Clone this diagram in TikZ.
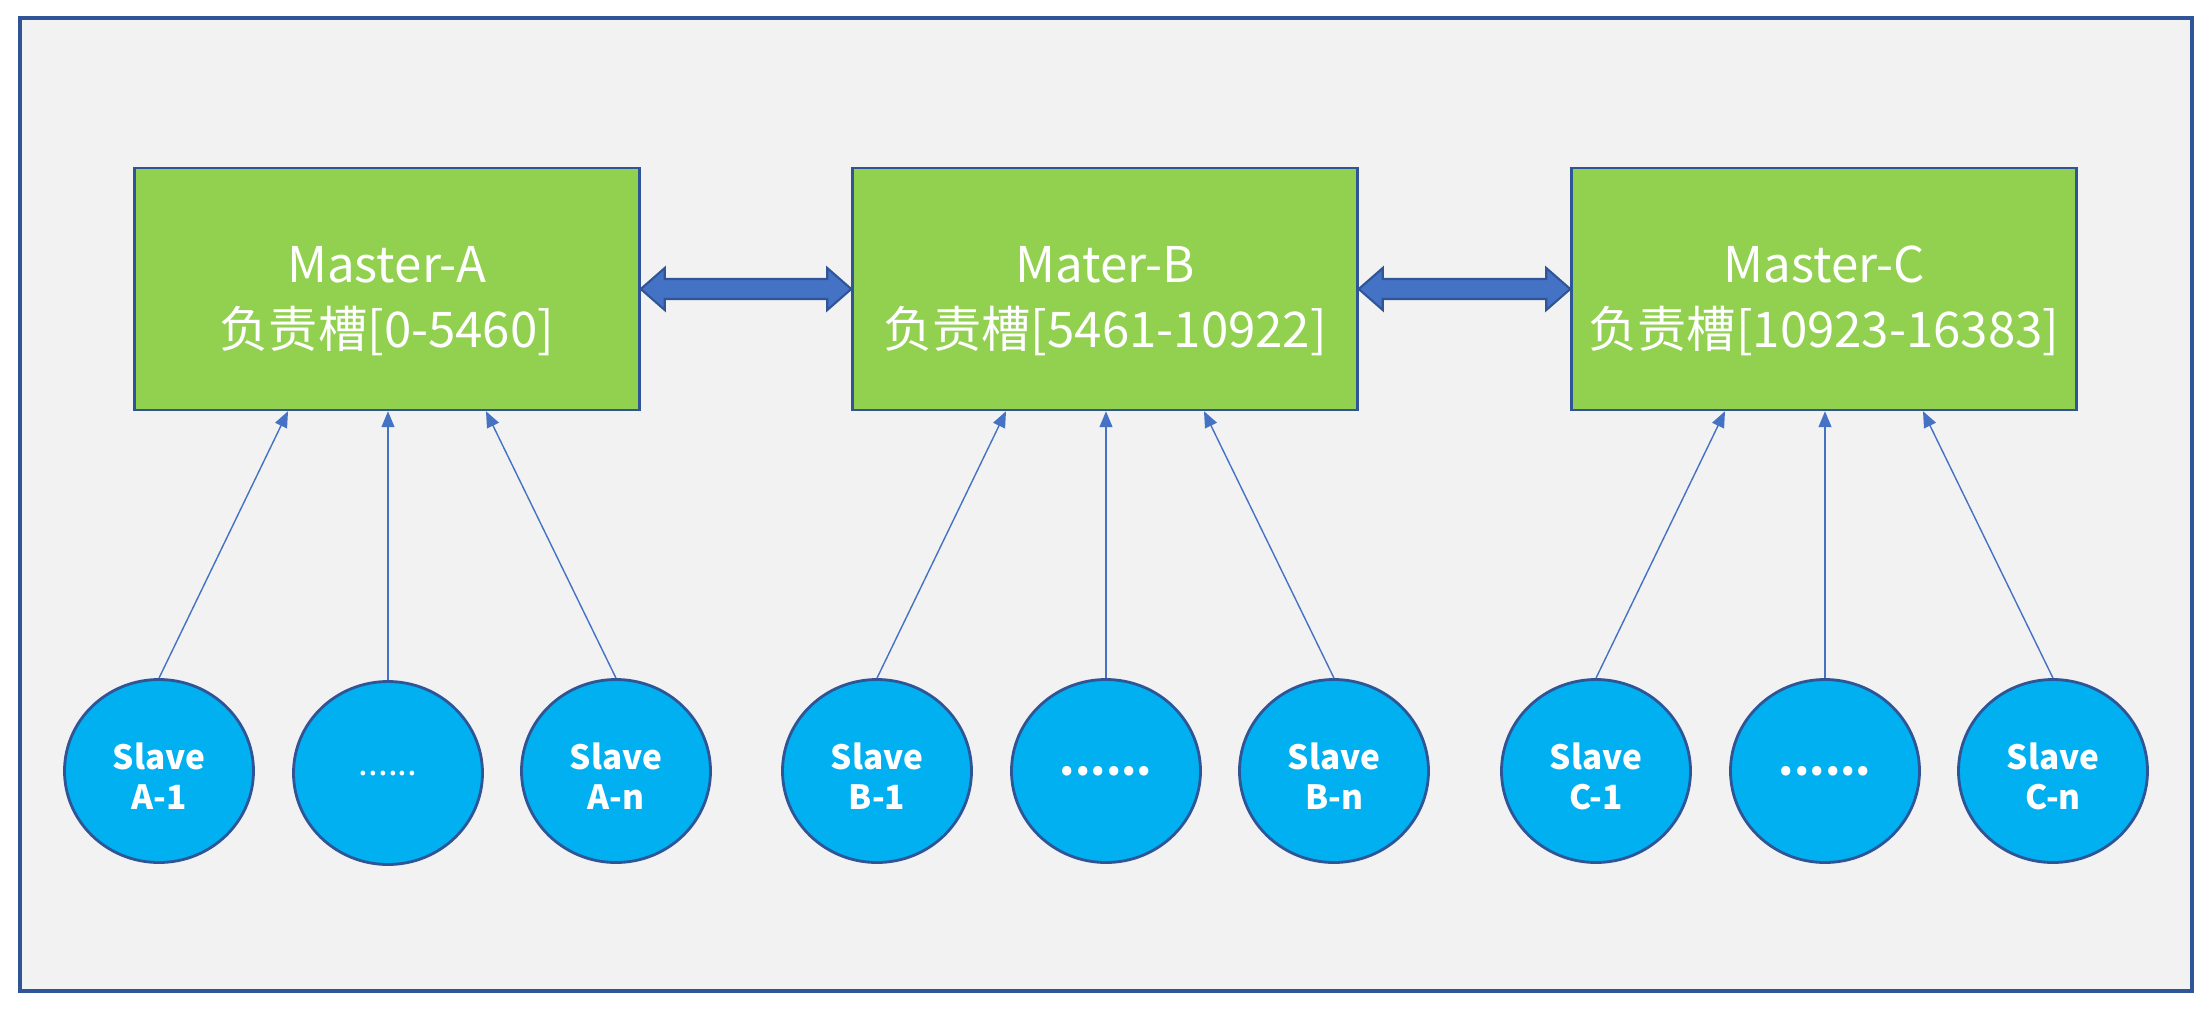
\documentclass[tikz,border=0pt]{standalone}
\usepackage{fontspec}
\usetikzlibrary{arrows.meta,calc,shapes.geometric}
\newfontfamily\cjk{Noto Sans CJK SC}
\definecolor{framebg}{HTML}{F2F2F2}
\definecolor{darkline}{HTML}{2F5597}
\definecolor{mastergreen}{HTML}{92D050}
\definecolor{slaveblue}{HTML}{00B0F0}
\definecolor{linkblue}{HTML}{4472C4}
\newcommand\mstrut{\rule{0pt}{17pt}}
\newcommand\sstrut{\rule{0pt}{10.5pt}}
\tikzset{
  master/.style={draw=darkline,line width=0.7pt,fill=mastergreen,minimum width=50.5mm,minimum height=24.2mm,inner sep=0pt,align=center,text=white,font=\cjk\fontsize{14}{18.4}\selectfont},
  slave/.style={ellipse,draw=darkline,line width=0.8pt,fill=slaveblue,minimum width=18.9mm,minimum height=18.3mm,inner sep=0pt,align=center,text=white,font=\cjk\bfseries\fontsize{9.5}{11.3}\selectfont},
  uplink/.style={draw=linkblue,line width=0.4pt,-{Triangle[length=1.6mm,width=1.3mm,fill=linkblue]}},
  sync/.style={draw=darkline,line width=0.6pt,fill=linkblue}
}
\begin{document}
\begin{tikzpicture}[x=0.1mm,y=-0.1mm]
\useasboundingbox (0,0) rectangle (2211,1011);
% frame
\draw[darkline,line width=1pt,fill=framebg] (20,18) rectangle (2192,991);

% masters
\node[master] (mA) at (387,289) {\mstrut Master-A\\负责槽[0-5460]};
\node[master] (mB) at (1105,289) {\mstrut Mater-B\\负责槽[5461-10922]};
\node[master] (mC) at (1824,289) {\mstrut Master-C\\负责槽[10923-16383]};

% slaves
\node[slave] (sA1) at (159,771) {\sstrut Slave\\A-1};
\node[slave,font=\cjk\fontsize{10}{11.5}\selectfont] (sA2) at (388,773) {......};
\node[slave] (sAn) at (616,771) {\sstrut Slave\\A-n};
\node[slave] (sB1) at (877,771) {\sstrut Slave\\B-1};
\node[slave,font=\cjk\bfseries\fontsize{12.5}{14}\selectfont] (sB2) at (1106,771) {......};
\node[slave] (sBn) at (1334,771) {\sstrut Slave\\B-n};
\node[slave] (sC1) at (1596,771) {\sstrut Slave\\C-1};
\node[slave,font=\cjk\bfseries\fontsize{12.5}{14}\selectfont] (sC2) at (1825,771) {......};
\node[slave] (sCn) at (2053,771) {\sstrut Slave\\C-n};

% slave -> master
\draw[uplink] (sA1.north) -- ([xshift=-9.9mm]mA.south);
\draw[uplink] (sA2.north) -- (sA2.north |- mA.south);
\draw[uplink] (sAn.north) -- ([xshift=9.9mm]mA.south);
\draw[uplink] (sB1.north) -- ([xshift=-9.9mm]mB.south);
\draw[uplink] (sB2.north) -- (sB2.north |- mB.south);
\draw[uplink] (sBn.north) -- ([xshift=9.9mm]mB.south);
\draw[uplink] (sC1.north) -- ([xshift=-9.9mm]mC.south);
\draw[uplink] (sC2.north) -- (sC2.north |- mC.south);
\draw[uplink] (sCn.north) -- ([xshift=9.9mm]mC.south);

% master <-> master
\draw[sync] (mA.east) -- ++(24,-21) -- ++(0,11) -- ($(mB.west)+(-24,-10)$) -- ++(0,-11) -- (mB.west)
  -- ++(-24,21) -- ++(0,-11) -- ($(mA.east)+(24,10)$) -- ++(0,11) -- cycle;
\draw[sync] (mB.east) -- ++(24,-21) -- ++(0,11) -- ($(mC.west)+(-24,-10)$) -- ++(0,-11) -- (mC.west)
  -- ++(-24,21) -- ++(0,-11) -- ($(mB.east)+(24,10)$) -- ++(0,11) -- cycle;
\end{tikzpicture}
\end{document}
